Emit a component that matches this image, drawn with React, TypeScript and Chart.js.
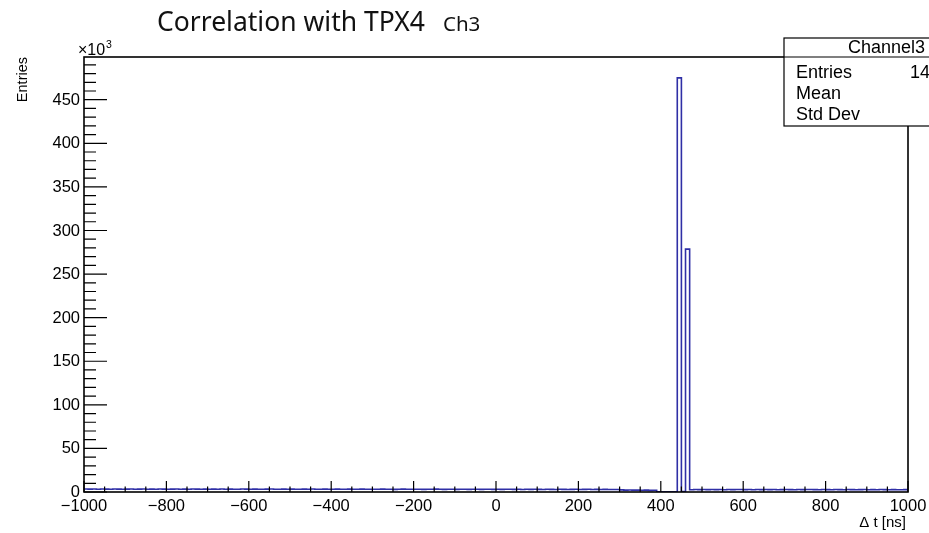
import { useEffect, useRef } from "react";
import { Chart, registerables } from "chart.js";

Chart.register(...registerables);

// Histogram binning: 200 bins of 10 ns from -1000 to 1000 ns
const binLow = -1000;
const binWidth = 10;

// Bin contents in units of 10^3 entries
const counts: number[] = [
  3.4, 3.3, 3.5, 3.2, 3.4, 3.3, 3.1, 3.4, 3.3, 3.2,
  3.3, 3.4, 3.2, 3.3, 3.5, 3.1, 3.3, 3.2, 3.4, 3.3,
  3.2, 3.3, 3.4, 3.1, 3.3, 3.2, 3.4, 3.3, 3.2, 3.3,
  3.1, 3.3, 3.2, 3.4, 3.2, 3.3, 3.1, 3.2, 3.4, 3.3,
  3.2, 3.3, 3.1, 3.2, 3.3, 3.4, 3.2, 3.1, 3.3, 3.2,
  3.3, 3.1, 3.2, 3.3, 3.2, 3.4, 3.1, 3.2, 3.3, 3.2,
  3.1, 3.3, 3.2, 3.1, 3.3, 3.2, 3.1, 3.3, 3.2, 3.2,
  3.1, 3.2, 3.3, 3.1, 3.2, 3.0, 3.2, 3.3, 3.1, 3.2,
  3.1, 3.2, 3.0, 3.2, 3.1, 3.3, 3.1, 3.0, 3.2, 3.1,
  3.0, 3.2, 3.1, 3.0, 3.2, 3.1, 3.0, 3.1, 3.2, 3.0,
  3.1, 3.0, 3.2, 3.1, 3.0, 3.1, 2.9, 3.1, 3.0, 3.1,
  3.0, 2.9, 3.1, 3.0, 2.9, 3.1, 3.0, 2.9, 3.0, 3.1,
  2.9, 3.0, 3.1, 2.9, 3.0, 2.8, 3.0, 2.9, 2.8, 2.9,
  2.4, 2.2, 2.3, 2.1, 2.2, 2.0, 2.1, 1.9, 2.0, 0.3,
  0.3, 0.2, 0.3, 0.2, 475.0, 0.4, 278.6, 2.6, 2.8, 2.7,
  2.8, 2.7, 2.9, 2.7, 2.8, 2.6, 2.8, 2.7, 2.9, 2.8,
  2.7, 2.8, 2.6, 2.8, 2.7, 2.9, 2.7, 2.8, 2.6, 2.7,
  2.8, 2.7, 2.6, 2.8, 2.7, 2.8, 2.9, 2.7, 2.6, 2.8,
  2.7, 2.6, 2.8, 2.7, 2.6, 2.8, 2.7, 2.6, 2.7, 2.8,
  2.6, 2.7, 2.6, 2.8, 2.7, 2.6, 2.7, 2.5, 2.6, 2.7,
];

// Axis ranges and tick labels
const xMin = -1000;
const xMax = 1000;
const yMax = 499;
const xTicks = [-1000, -800, -600, -400, -200, 0, 200, 400, 600, 800, 1000];
const yTicks = [0, 50, 100, 150, 200, 250, 300, 350, 400, 450];
const xMinorStep = 50;
const yMinorStep = 10;

// Statistics box contents
const statTitle = "Channel3";
const statLabels = ["Entries", "Mean", "Std Dev"];
const statValues = ["1412936", "323.8", "311.2"];

const AXIS_FONT = "'Liberation Sans', Arial, sans-serif";
const TITLE_FONT = "'Noto Sans', 'Open Sans', sans-serif";

const fmt = (v: number) => String(v).replace("-", "\u2212");

const rootStyle = {
  id: "rootStyle",
  afterDatasetsDraw(chart: any) {
    const { ctx, chartArea: a, scales } = chart;
    const sx = scales.x;
    const sy = scales.y;
    ctx.save();
    ctx.strokeStyle = "#000";

    // frame
    ctx.lineWidth = 1.6;
    ctx.strokeRect(a.left, a.top, a.right - a.left, a.bottom - a.top);

    // y axis ticks (inside the frame)
    ctx.lineWidth = 1.2;
    ctx.beginPath();
    for (let v = 0; v <= yMax; v += yMinorStep) {
      const py = sy.getPixelForValue(v);
      const len = v % 50 === 0 ? 23 : 12;
      ctx.moveTo(a.left, py);
      ctx.lineTo(a.left + len, py);
    }
    // x axis ticks
    for (let v = xMin; v <= xMax; v += xMinorStep) {
      const px = sx.getPixelForValue(v);
      const len = v % 200 === 0 ? 11 : 5.5;
      ctx.moveTo(px, a.bottom);
      ctx.lineTo(px, a.bottom - len);
    }
    ctx.stroke();

    // tick labels
    ctx.fillStyle = "#000";
    ctx.font = `16.5px ${AXIS_FONT}`;
    ctx.textAlign = "right";
    ctx.textBaseline = "middle";
    yTicks.forEach((v) => {
      ctx.fillText(fmt(v), a.left - 4, sy.getPixelForValue(v) + 0.5);
    });
    ctx.textAlign = "center";
    xTicks.forEach((v) => {
      ctx.fillText(fmt(v), sx.getPixelForValue(v), a.bottom + 14);
    });

    // exponent marker
    ctx.textAlign = "left";
    ctx.textBaseline = "alphabetic";
    ctx.font = `16px ${AXIS_FONT}`;
    ctx.fillText("\u00d710", a.left - 6, a.top - 2);
    ctx.font = `10.5px ${AXIS_FONT}`;
    ctx.fillText("3", a.left + 22, a.top - 9);

    // axis titles
    ctx.font = `15px ${AXIS_FONT}`;
    ctx.textAlign = "right";
    ctx.fillText("\u0394 t [ns]", a.right - 2, a.bottom + 35);
    ctx.save();
    ctx.translate(27, a.top);
    ctx.rotate(-Math.PI / 2);
    ctx.font = `14.5px ${AXIS_FONT}`;
    ctx.textAlign = "right";
    ctx.fillText("Entries", 0, 0);
    ctx.restore();

    ctx.restore();
  },
  afterDraw(chart: any) {
    const { ctx } = chart;
    ctx.save();

    // title
    ctx.fillStyle = "#111";
    ctx.textBaseline = "alphabetic";
    ctx.textAlign = "left";
    ctx.font = `26.5px ${TITLE_FONT}`;
    ctx.fillText("Correlation with TPX4", 157, 31);
    ctx.font = `20.5px ${TITLE_FONT}`;
    ctx.fillText("Ch3", 443, 31);

    // statistics box
    const bx = 784;
    const by = 38;
    const bw = 205;
    const rowH = 22;
    const bh = rowH * 4;
    ctx.fillStyle = "#fff";
    ctx.fillRect(bx, by, bw, bh);
    ctx.strokeStyle = "#000";
    ctx.lineWidth = 1.2;
    ctx.strokeRect(bx, by, bw, bh);
    ctx.beginPath();
    ctx.moveTo(bx, by + 19);
    ctx.lineTo(bx + bw, by + 19);
    ctx.stroke();

    ctx.fillStyle = "#000";
    ctx.font = `18px ${AXIS_FONT}`;
    ctx.textBaseline = "middle";
    ctx.textAlign = "center";
    ctx.fillText(statTitle, bx + bw / 2, by + 10);
    statLabels.forEach((label, i) => {
      const cy = by + 35 + i * 21;
      ctx.textAlign = "left";
      ctx.fillText(label, bx + 12, cy);
      ctx.textAlign = "right";
      ctx.fillText(statValues[i], bx + bw - 9, cy);
    });

    ctx.restore();
  },
};

export default function App() {
  const canvasRef = useRef<HTMLCanvasElement | null>(null);

  useEffect(() => {
    const canvas = canvasRef.current;
    if (!canvas) return;

    // outline points at bin lower edges, closed at the upper edge of the last bin;
    // 'before' stepping holds each bin's height across its own width
    const points = counts.map((c, i) => ({ x: binLow + i * binWidth, y: c }));
    points.push({ x: binLow + counts.length * binWidth, y: counts[counts.length - 1] });

    const chart = new Chart(canvas, {
      type: "line",
      data: {
        datasets: [
          {
            data: points,
            stepped: "before",
            borderColor: "#2f2fa6",
            borderWidth: 1.6,
            pointRadius: 0,
            fill: false,
          },
        ],
      },
      options: {
        animation: false,
        responsive: false,
        devicePixelRatio: 1,
        layout: { padding: { left: 84, right: 21, top: 57, bottom: 41 } },
        plugins: { legend: { display: false }, tooltip: { enabled: false } },
        scales: {
          x: { type: "linear", min: xMin, max: xMax, display: false },
          y: { type: "linear", min: 0, max: yMax, display: false },
        },
      },
      plugins: [rootStyle],
    });

    return () => chart.destroy();
  }, []);

  return (
    <div style={{ position: "fixed", left: 0, top: 0, width: 929, height: 533, background: "#fff" }}>
      <canvas ref={canvasRef} width={929} height={533} style={{ display: "block" }} />
    </div>
  );
}
